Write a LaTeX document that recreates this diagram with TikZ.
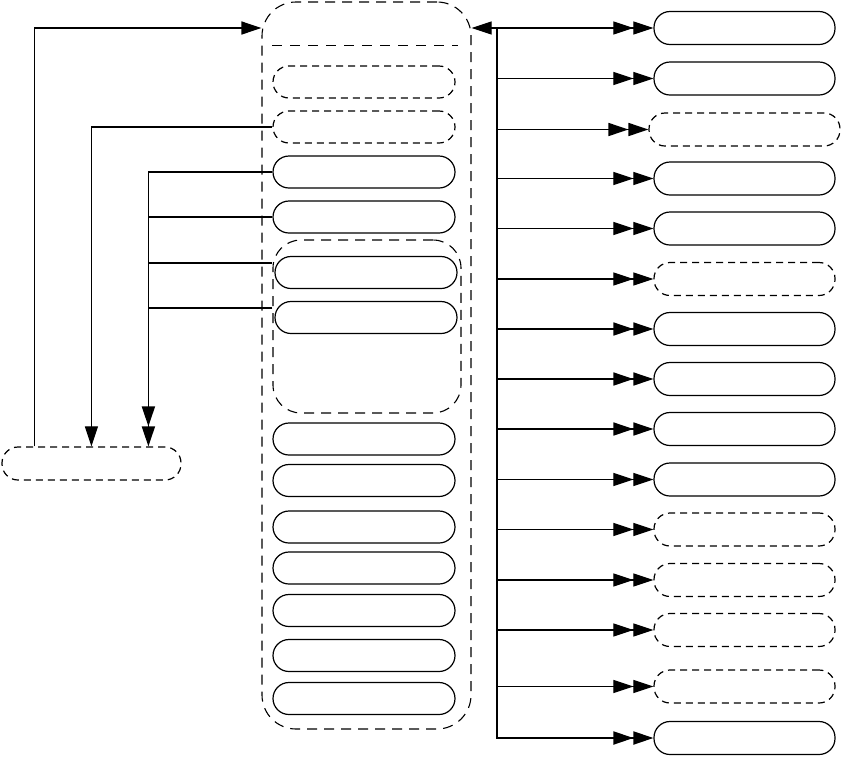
\documentclass[tikz,border=0pt]{standalone}
\usetikzlibrary{arrows.meta}
\begin{document}
\begin{tikzpicture}[x=1pt,y=-1pt,
 pill/.style={draw, rounded corners=16pt, minimum width=182pt, minimum height=32pt, inner sep=0pt, line width=1.2pt},
 dpill/.style={pill, dash pattern=on 7pt off 5pt, line width=1.2pt},
 rpill/.style={pill, minimum width=181pt, minimum height=33pt},
 drpill/.style={rpill, dash pattern=on 7pt off 5pt, line width=1.2pt},
 drpillw/.style={drpill, minimum width=191pt},
 grpbox/.style={draw, dash pattern=on 10pt off 7pt, line width=1.1pt, inner sep=0pt},
 sepline/.style={draw, dash pattern=on 10pt off 8pt, line width=1pt},
 one/.style={-{Triangle[length=20pt,width=13pt]}},
 two/.style={-{Triangle[length=20pt,width=13pt,sep=0pt]Triangle[length=20pt,width=13pt]}}]
\useasboundingbox (0,0) rectangle (841,756);
% container
\node[grpbox, rounded corners=34pt, minimum width=209pt, minimum height=727pt] (cont) at (366.5,365.5) {};
\coordinate (s1) at (272,45.5);
\coordinate (s2) at (458,45.5);
\path[sepline] (s1) -- (s2);
\node[grpbox, rounded corners=28pt, minimum width=188pt, minimum height=173pt] (grp) at (367,326.5) {};
% inner nodes
\node[dpill] (N1) at (364,82) {};
\node[dpill] (N2) at (364,127) {};
\node[pill] (N3) at (364,172) {};
\node[pill] (N4) at (364,217) {};
\node[pill] (N5) at (366,272.5) {};
\node[pill] (N6) at (366,317.5) {};
\node[pill] (N7) at (364,439) {};
\node[pill] (N8) at (364,480.5) {};
\node[pill] (N9) at (364,527) {};
\node[pill] (N10) at (364,568) {};
\node[pill] (N11) at (364,610.5) {};
\node[pill] (N12) at (364,655.5) {};
\node[pill] (N13) at (364,698.5) {};
% left node
\node[dpill, minimum width=179pt, minimum height=33pt] (L) at (91.5,463.5) {};
% right side
\coordinate (bt) at (497,28);
\node[rpill] (R15) at (744.5,738) {};
\foreach \i/\y/\st/\lw in {1/28/rpill/1.1, 2/78.5/rpill/1.1, 3/129.5/drpillw/1.6, 4/178.5/rpill/1.1, 5/228.5/rpill/1.1, 6/279/drpill/1.1, 7/329/rpill/1.6, 8/379/rpill/1.6, 9/429/rpill/1.6, 10/479.5/rpill/1.1, 11/529.5/drpill/1.1, 12/580/drpill/1.1, 13/630/drpill/1.1, 14/686.5/drpill/1.1}
{
  \node[\st] (R\i) at (744.5,\y) {};
  \draw[line width=\lw pt, two] (bt |- R\i) -- (R\i.west);
}
\draw[line width=2pt, two] (bt) |- (R15.west);
\draw[line width=1.1pt, one] (bt) -- (cont.east |- bt);
% left connectors
\draw[line width=1.4pt, one] ([xshift=33pt]L.north west) |- (cont.west |- bt);
\draw[line width=1.1pt, one] (N2.west) -| ([xshift=90pt]L.north west);
\coordinate (lb) at ([xshift=147pt]L.north west);
\draw[line width=1.8pt, two] (N3.west) -| (lb);
\draw[line width=1.8pt] (N4.west) -- (lb |- N4.west);
\path ([yshift=10pt]N5.west) coordinate (a5);
\path ([yshift=10pt]N6.west) coordinate (a6);
\draw[line width=2pt] (grp.west |- a5) -- (lb |- a5);
\draw[line width=2pt] (grp.west |- a6) -- (lb |- a6);
\end{tikzpicture}
\end{document}
